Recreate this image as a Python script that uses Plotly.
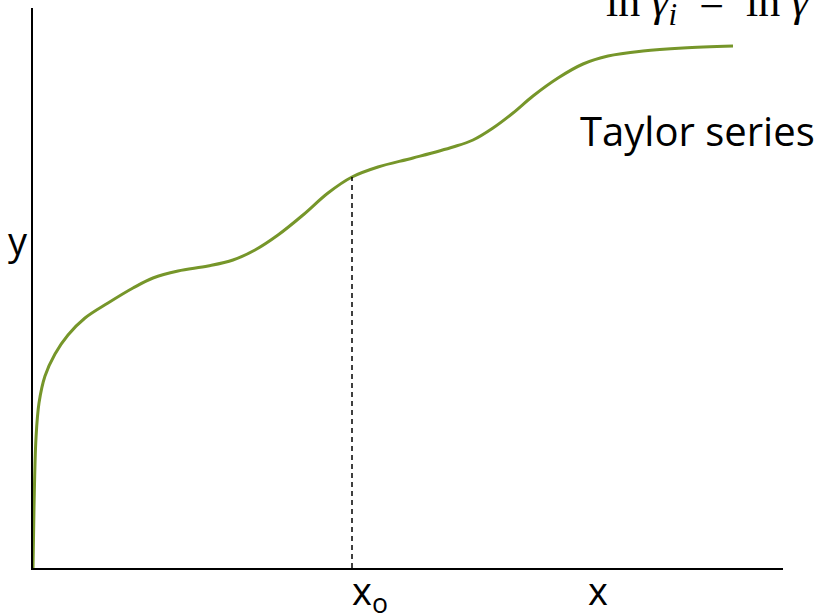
import plotly.graph_objects as go

# Sketch of a smooth function y(x) with a marked expansion point x_o
x_vals = [0, 1, 3, 6, 12, 22, 35, 52, 75, 100, 120, 145, 175, 200, 222, 245, 270, 295,
          319, 345, 380, 420, 440, 460, 480, 500, 525, 550, 575, 610, 650, 700]
y_vals = [0, 60, 130, 165, 192, 214, 233, 250, 265, 280, 290, 297, 302, 308, 318, 333, 353, 375,
          391, 401, 410, 421, 428, 440, 455, 472, 490, 504, 512, 517, 520, 522]

x0 = 319
y0 = y_vals[x_vals.index(x0)]

x_max = 750
y_max = 560

green = "#76962a"
font_sans = "Open Sans, Noto Sans, sans-serif"
font_math = "Liberation Serif, DejaVu Serif, serif"

fig = go.Figure()

fig.add_trace(go.Scatter(
    x=x_vals, y=y_vals, mode="lines",
    line=dict(color=green, width=3, shape="spline", smoothing=1.0),
    hoverinfo="skip", showlegend=False,
))

# Dashed drop line from the curve down to the x axis at x_o
fig.add_trace(go.Scatter(
    x=[x0, x0], y=[0, y0], mode="lines",
    line=dict(color="black", width=1.5, dash="5px,4px"),
    hoverinfo="skip", showlegend=False,
))

fig.update_layout(
    width=816, height=613,
    margin=dict(l=33, r=33, t=8, b=45),
    paper_bgcolor="white", plot_bgcolor="white",
    xaxis=dict(range=[0, x_max], showline=True, linecolor="black", linewidth=2,
               showgrid=False, zeroline=False, showticklabels=False, ticks=""),
    yaxis=dict(range=[0, y_max], showline=True, linecolor="black", linewidth=2,
               showgrid=False, zeroline=False, showticklabels=False, ticks=""),
    annotations=[
        dict(x=-0.02, y=0.585, xref="paper", yref="paper", text="y", showarrow=False,
             font=dict(family=font_sans, size=38, color="black"),
             xanchor="center", yanchor="middle"),
        dict(x=0.4227, y=0.01, xref="paper", yref="paper", text="x<sub>o</sub>",
             showarrow=False,
             font=dict(family=font_sans, size=38, color="black"),
             xanchor="left", yanchor="top"),
        dict(x=0.7533, y=0.01, xref="paper", yref="paper", text="x", showarrow=False,
             font=dict(family=font_sans, size=38, color="black"),
             xanchor="center", yanchor="top"),
        dict(x=0.7267, y=0.782, xref="paper", yref="paper", text="Taylor series",
             showarrow=False,
             font=dict(family=font_sans, size=40, color="black"),
             xanchor="left", yanchor="middle"),
        dict(x=0.761, y=0.953, xref="paper", yref="paper",
             text="ln&nbsp;<i>γ</i><sub><i>i</i></sub>&nbsp;&nbsp;=&nbsp;&nbsp;ln&nbsp;<i>γ</i>",
             showarrow=False,
             font=dict(family=font_math, size=44, color="black"),
             xanchor="left", yanchor="bottom"),
    ],
)

fig.write_html("out.html")
